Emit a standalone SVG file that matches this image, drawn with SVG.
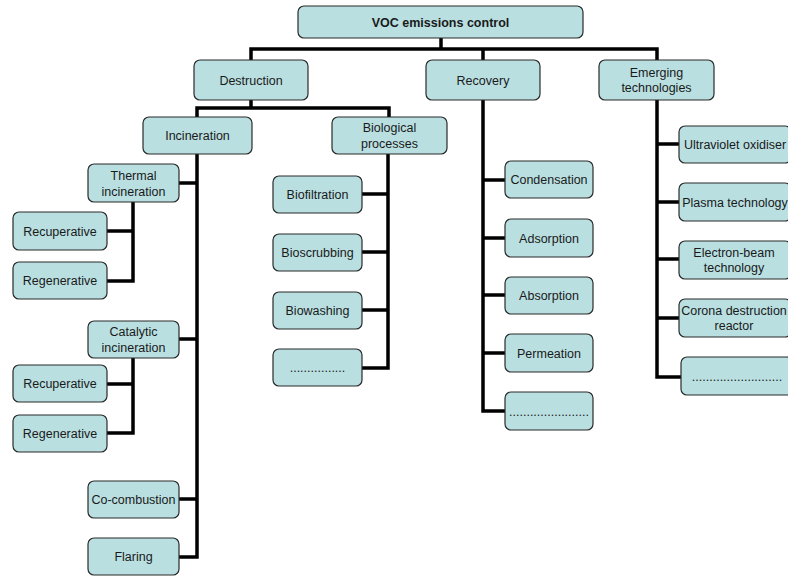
<svg xmlns="http://www.w3.org/2000/svg" width="788" height="576" viewBox="0 0 788 576">
<style>
.b{fill:#b9dfe1;stroke:#2a2a2a;stroke-width:1.2}
.t{font-family:"Liberation Sans",Arial,sans-serif;font-size:12.5px;fill:#1a1a1a;text-anchor:middle}
.bold{font-weight:bold}
.c{fill:none;stroke:#000;stroke-width:3.5;stroke-linejoin:miter;stroke-linecap:butt}
</style>
<rect width="788" height="576" fill="#fff"/>
<g id="connectors" class="c">
<path d="M441,38 V49"/>
<path d="M251,60 V49 H657 V60"/>
<path d="M483,49 V60"/>
<path d="M251,100 V108"/>
<path d="M197,117 V108 H389 V117"/>
<path d="M197,154 V557 H179"/>
<path d="M179,183 H197 M179,339 H197 M179,499 H197"/>
<path d="M133,202 V281 H107 M107,231 H133"/>
<path d="M133,358 V433 H107 M107,384 H133"/>
<path d="M388,154 V368 H362 M362,194 H388 M362,252 H388 M362,310 H388"/>
<path d="M483,100 V411 H505 M483,180 H505 M483,238 H505 M483,295 H505 M483,353 H505"/>
<path d="M657,100 V377 H681 M657,144 H679 M657,202 H679 M657,259 H679 M657,318 H679"/>
</g>
<g id="voc"><rect class="b" x="298" y="6" width="285" height="32" rx="6"/><text class="t bold" x="440.5" y="26.5">VOC emissions control</text></g>
<g id="destruction"><rect class="b" x="194" y="60" width="114" height="40" rx="6"/><text class="t" x="251" y="84.5">Destruction</text></g>
<g id="recovery"><rect class="b" x="426" y="60" width="114" height="40" rx="6"/><text class="t" x="483" y="84.5">Recovery</text></g>
<g id="emerging"><rect class="b" x="599" y="60" width="115" height="40" rx="6"/><text class="t" x="656.5" y="76.5">Emerging</text><text class="t" x="656.5" y="92">technologies</text></g>
<g id="incineration"><rect class="b" x="143" y="117" width="109" height="37" rx="6"/><text class="t" x="197.5" y="140">Incineration</text></g>
<g id="biological"><rect class="b" x="332" y="117" width="115" height="37" rx="6"/><text class="t" x="389.5" y="132">Biological</text><text class="t" x="389.5" y="148">processes</text></g>
<g id="thermal"><rect class="b" x="88" y="164" width="91" height="38" rx="6"/><text class="t" x="133.5" y="180">Thermal</text><text class="t" x="133.5" y="196">incineration</text></g>
<g id="recup1"><rect class="b" x="13" y="212" width="94" height="38" rx="6"/><text class="t" x="60" y="235.5">Recuperative</text></g>
<g id="regen1"><rect class="b" x="13" y="262" width="94" height="37" rx="6"/><text class="t" x="60" y="285">Regenerative</text></g>
<g id="catalytic"><rect class="b" x="88" y="321" width="91" height="37" rx="6"/><text class="t" x="133.5" y="336">Catalytic</text><text class="t" x="133.5" y="351.5">incineration</text></g>
<g id="recup2"><rect class="b" x="13" y="365" width="94" height="37" rx="6"/><text class="t" x="60" y="388">Recuperative</text></g>
<g id="regen2"><rect class="b" x="13" y="415" width="94" height="37" rx="6"/><text class="t" x="60" y="438">Regenerative</text></g>
<g id="cocombustion"><rect class="b" x="88" y="481" width="91" height="37" rx="6"/><text class="t" x="133.5" y="504">Co-combustion</text></g>
<g id="flaring"><rect class="b" x="88" y="538" width="91" height="37" rx="6"/><text class="t" x="133.5" y="561">Flaring</text></g>
<g id="biofiltration"><rect class="b" x="273" y="176" width="89" height="37" rx="6"/><text class="t" x="317.5" y="199">Biofiltration</text></g>
<g id="bioscrubbing"><rect class="b" x="273" y="234" width="89" height="37" rx="6"/><text class="t" x="317.5" y="257">Bioscrubbing</text></g>
<g id="biowashing"><rect class="b" x="273" y="292" width="89" height="37" rx="6"/><text class="t" x="317.5" y="315">Biowashing</text></g>
<g id="bio-more"><rect class="b" x="273" y="349" width="89" height="37" rx="6"/><text class="t" x="317.5" y="372">................</text></g>
<g id="condensation"><rect class="b" x="505" y="161" width="88" height="37" rx="6"/><text class="t" x="549" y="184">Condensation</text></g>
<g id="adsorption"><rect class="b" x="505" y="219" width="88" height="38" rx="6"/><text class="t" x="549" y="242.5">Adsorption</text></g>
<g id="absorption"><rect class="b" x="505" y="277" width="88" height="37" rx="6"/><text class="t" x="549" y="300">Absorption</text></g>
<g id="permeation"><rect class="b" x="505" y="334" width="88" height="38" rx="6"/><text class="t" x="549" y="357.5">Permeation</text></g>
<g id="recovery-more"><rect class="b" x="505" y="392" width="88" height="38" rx="6"/><text class="t" x="549" y="415.5">.......................</text></g>
<g id="ultraviolet"><rect class="b" x="679" y="126" width="112" height="37" rx="6"/><text class="t" x="735" y="149">Ultraviolet oxidiser</text></g>
<g id="plasma"><rect class="b" x="679" y="183" width="112" height="38" rx="6"/><text class="t" x="735" y="206.5">Plasma technology</text></g>
<g id="electron"><rect class="b" x="679" y="241" width="112" height="38" rx="6"/><text class="t" x="734" y="256.5">Electron-beam</text><text class="t" x="734" y="272">technology</text></g>
<g id="corona"><rect class="b" x="679" y="299" width="112" height="38" rx="6"/><text class="t" x="734" y="314.5">Corona destruction</text><text class="t" x="734" y="330">reactor</text></g>
<g id="emerging-more"><rect class="b" x="681" y="357" width="112" height="38" rx="6"/><text class="t" x="737" y="380.5">..........................</text></g>
</svg>
